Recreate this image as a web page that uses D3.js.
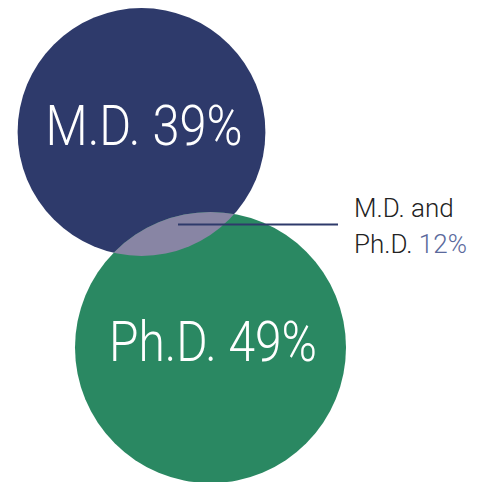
<!DOCTYPE html>
<html>
<head>
<meta charset="utf-8">
<script src="https://cdn.jsdelivr.net/npm/d3@7"></script>
<style>
  html, body { margin: 0; padding: 0; background: #fff; }
  text { font-family: Roboto, "Open Sans", sans-serif; font-weight: 300; }
</style>
</head>
<body>
<svg id="chart"></svg>
<script>
// Venn data: exclusive shares and the overlap
const groups = ["M.D.", "Ph.D."];
const exclusive = [39, 49];
const overlapLabel = ["M.D. and", "Ph.D."];
const overlapValue = 12;
const colors = ["#2e3a6b", "#2a8862"];

const width = 478, height = 482;

const svg = d3.select("#chart").attr("width", width).attr("height", height);

// circle area ~ total share (exclusive + overlap)
const totals = exclusive.map(v => v + overlapValue);
const rScale = d3.scaleSqrt().domain([0, d3.max(totals)]).range([0, 135.5]);

// layout: first circle anchored top-left, second one offset down-right
const anchor = { x: 141.5, y: 132 };
const offset = { dx: 69, dy: 215.5 };

const circles = groups.map((g, i) => ({
  name: g,
  value: exclusive[i],
  r: rScale(totals[i]),
  cx: anchor.x + i * offset.dx,
  cy: anchor.y + i * offset.dy,
  color: colors[i]
}));

// clip for overlap lens
svg.append("defs").append("clipPath")
  .attr("id", "clipA")
  .append("circle")
  .attr("cx", circles[0].cx)
  .attr("cy", circles[0].cy)
  .attr("r", circles[0].r);

svg.selectAll(".set")
  .data(circles)
  .join("circle")
  .attr("class", "set")
  .attr("cx", d => d.cx)
  .attr("cy", d => d.cy)
  .attr("r", d => d.r)
  .attr("fill", d => d.color);

// overlap lens
svg.append("circle")
  .attr("cx", circles[1].cx)
  .attr("cy", circles[1].cy)
  .attr("r", circles[1].r)
  .attr("clip-path", "url(#clipA)")
  .attr("fill", "#8885a4");

// big labels
svg.selectAll(".big")
  .data(circles)
  .join("text")
  .attr("class", "big")
  .attr("x", d => d.cx + 2.5)
  .attr("y", d => d.cy + 13)
  .attr("text-anchor", "middle")
  .attr("fill", "#fff")
  .attr("font-size", 55)
  .attr("textLength", (d, i) => i === 0 ? 197 : 208)
  .attr("lengthAdjust", "spacingAndGlyphs")
  .text(d => `${d.name} ${d.value}%`);

// leader line from lens to label
const lensY = 224.5;
svg.append("line")
  .attr("x1", 178).attr("x2", 338)
  .attr("y1", lensY).attr("y2", lensY)
  .attr("stroke", "#2e3a6b")
  .attr("stroke-width", 2);

const lbl = svg.append("text")
  .attr("x", 354)
  .attr("y", 217)
  .attr("font-size", 26)
  .attr("fill", "#222");
lbl.append("tspan").text(overlapLabel[0]);
lbl.append("tspan").attr("x", 354).attr("dy", 36).text(overlapLabel[1] + " ");
lbl.append("tspan").attr("fill", "#5a699c").text(overlapValue + "%");
</script>
</body>
</html>
